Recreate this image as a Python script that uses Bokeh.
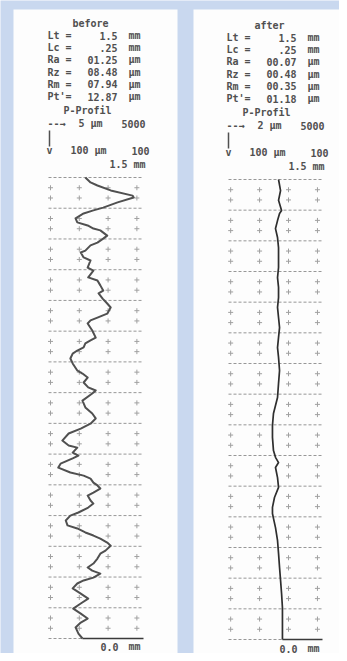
from bokeh.plotting import figure
from bokeh.models import Range1d
from bokeh.core.properties import value
from bokeh.embed import file_html
from bokeh.resources import INLINE

# ---------------- data ----------------
before_pos_mm = [0.000, 0.016, 0.026, 0.042, 0.059, 0.065, 0.081, 0.098, 0.107, 0.117,
                 0.133, 0.146, 0.156, 0.166, 0.172, 0.189, 0.199, 0.212, 0.221, 0.238,
                 0.244, 0.260, 0.270, 0.293, 0.303, 0.325, 0.335, 0.351, 0.368, 0.377,
                 0.394, 0.410, 0.423, 0.443, 0.456, 0.465, 0.475, 0.498, 0.521, 0.530,
                 0.540, 0.553, 0.563, 0.573, 0.589, 0.605, 0.628, 0.638, 0.651, 0.667,
                 0.683, 0.693, 0.703, 0.726, 0.748, 0.768, 0.784, 0.801, 0.817, 0.833,
                 0.856, 0.872, 0.879, 0.895, 0.905, 0.914, 0.931, 0.944, 0.960, 0.970,
                 0.980, 0.993, 1.002, 1.012, 1.025, 1.035, 1.051, 1.061, 1.074, 1.090,
                 1.100, 1.116, 1.132, 1.142, 1.155, 1.165, 1.175, 1.188, 1.198, 1.214,
                 1.224, 1.240, 1.256, 1.269, 1.279, 1.289, 1.302, 1.311, 1.321, 1.337,
                 1.354, 1.370, 1.386, 1.403, 1.419, 1.435, 1.448, 1.464, 1.484, 1.500]
before_height_um = [6.4, 7.3, 8.5, 10.8, 14.6, 14.8, 12.0, 9.5, 7.8, 6.1,
                    4.7, 5.0, 6.8, 7.8, 9.0, 10.2, 9.5, 8.5, 7.3, 6.4,
                    5.6, 6.1, 7.3, 6.8, 7.8, 6.9, 8.5, 9.0, 9.5, 8.7,
                    9.4, 10.2, 10.8, 10.2, 8.5, 7.3, 6.8, 7.6, 8.2, 7.3,
                    6.4, 6.1, 5.0, 4.2, 3.8, 4.2, 5.0, 5.9, 6.8, 6.1,
                    6.9, 8.2, 7.6, 5.9, 6.4, 7.6, 8.2, 7.3, 5.6, 3.5,
                    2.4, 3.5, 5.0, 4.2, 5.2, 4.2, 2.1, 1.7, 3.8, 6.1,
                    7.3, 7.8, 8.5, 9.0, 7.8, 6.8, 7.3, 7.8, 6.9, 5.2,
                    3.8, 3.0, 3.3, 5.0, 6.4, 7.8, 9.0, 10.2, 10.8, 9.9,
                    9.0, 8.5, 7.8, 6.8, 7.6, 9.0, 7.8, 6.1, 5.0, 4.2,
                    5.6, 6.9, 5.6, 4.3, 5.6, 6.8, 5.6, 4.7, 5.2, 5.9]

after_pos_mm = [0.000, 0.036, 0.068, 0.101, 0.111, 0.134, 0.160, 0.189, 0.222, 0.254,
                0.287, 0.320, 0.352, 0.385, 0.417, 0.450, 0.483, 0.515, 0.548, 0.580,
                0.623, 0.665, 0.711, 0.737, 0.763, 0.802, 0.841, 0.884, 0.906, 0.923,
                0.939, 0.972, 1.004, 1.037, 1.069, 1.089, 1.105, 1.135, 1.177, 1.219,
                1.265, 1.307, 1.350, 1.396, 1.438, 1.500]
after_height_um = [3.46, 3.60, 3.46, 3.67, 3.53, 3.39, 3.25, 3.39, 3.46, 3.46,
                   3.46, 3.39, 3.46, 3.46, 3.39, 3.46, 3.53, 3.46, 3.39, 3.46,
                   3.53, 3.46, 3.39, 3.25, 3.11, 3.04, 3.04, 3.11, 3.25, 3.46,
                   3.25, 3.39, 3.46, 3.18, 3.04, 3.04, 3.11, 3.25, 3.39, 3.46,
                   3.53, 3.60, 3.67, 3.73, 3.73, 3.73]

before_title = "before"
after_title = "after"
stat_labels = ["Lt =", "Lc =", "Ra =", "Rz =", "Rm =", "Pt'="]
stat_units = ["mm", "mm", "µm", "µm", "µm", "µm"]
before_values = ["1.5", ".25", "01.25", "08.48", "07.94", "12.87"]
after_values = ["1.5", ".25", "00.07", "00.48", "00.35", "01.18"]
profile_name = "P-Profil"
before_vscale = "5 µm"
after_vscale = "2 µm"
vmag = "5000"
hscale = "100 µm"
hmag = "100"
length_label = "1.5 mm"
zero_label = "0.0"
zero_unit = "mm"
length_mm = 1.5
length_step_mm = 0.1

# ---------------- page geometry (pixels of the picture) ----------------
W, H = 339, 653
PX0, PX1 = 0, W
PY0, PY1 = 0, H
BLUE = "#c9d8ef"
PANEL = "#fdfdfd"
INK = "#505050"
GRIDC = "#8c8c8c"
FONT = value("DejaVu Sans Mono")

p = figure(width=W, height=H, x_range=Range1d(PX0, PX1), y_range=Range1d(PY1, PY0),
           x_axis_type=None, y_axis_type=None, output_backend="svg",
           toolbar_location=None, min_border=0)
p.grid.visible = False
p.outline_line_color = None
p.background_fill_color = BLUE
p.border_fill_color = BLUE

# white paper panels
p.quad(left=[13, 193], right=[177, 341], top=[9, 9], bottom=[665, 665],
       fill_color=PANEL, line_color=None)

panels = [
    dict(name="b", box=(48, 143, 177, 638), hext=(0.0, 16.5), cols0=0.35, colstep=5.0,
         x0=47, dy=0, title=before_title, values=before_values, vscale=before_vscale,
         pos=before_pos_mm, h=before_height_um, lw=2.0, lc="#505050"),
    dict(name="a", box=(228, 322, 179, 639), hext=(0.0, 6.5), cols0=0.15, colstep=2.0,
         x0=226, dy=2, title=after_title, values=after_values, vscale=after_vscale,
         pos=after_pos_mm, h=after_height_um, lw=1.7, lc="#2e2e2e"),
]

for pn in panels:
    x0b, x1b, y0b, y1b = pn["box"]
    h0, h1 = pn["hext"]
    sx = (h1 - h0) / (x1b - x0b)
    sy = length_mm / (y1b - y0b)
    xr, yr = "x" + pn["name"], "y" + pn["name"]
    p.extra_x_ranges[xr] = Range1d(h0 + (PX0 - x0b) * sx, h0 + (PX1 - x0b) * sx)
    p.extra_y_ranges[yr] = Range1d((PY1 - y0b) * sy, (PY0 - y0b) * sy)
    kw = dict(x_range_name=xr, y_range_name=yr)

    n = int(round(length_mm / length_step_mm))
    ys = [k * length_step_mm for k in range(n + 1)]
    p.segment(x0=[h0] * len(ys), x1=[h1] * len(ys), y0=ys, y1=ys,
              line_color=GRIDC, line_width=1, line_dash="3 2", line_alpha=0.9, **kw)
    cols = [pn["cols0"] + i * pn["colstep"] for i in range(4)]
    mx, my = [], []
    for k in range(n):
        for f in (1 / 3, 2 / 3):
            for c in cols:
                mx.append(c)
                my.append((k + f) * length_step_mm)
    p.scatter(x=mx, y=my, marker="cross", size=5, line_color="#a0a0a0", line_width=1, **kw)

    # profile trace
    p.line(x=pn["h"], y=pn["pos"], line_color=pn["lc"], line_width=pn["lw"],
           line_join="round", **kw)
    # base line at the end of the trace
    p.segment(x0=[pn["h"][-1]], x1=[h1], y0=[pn["pos"][-1]], y1=[pn["pos"][-1]],
              line_color="#3a3a3a", line_width=1.6, **kw)

    # ---- header texts ----
    x0 = pn["x0"]
    dy = pn["dy"]
    common = dict(text_font=FONT, text_font_size="10px", text_font_style="bold",
                  text_color=INK, text_baseline="middle")
    rows = [35 + dy + 12.2 * i for i in range(6)]
    p.text(x=[x0 + 43], y=[23 + dy], text=[pn["title"]], text_align="center", **common)
    p.text(x=[x0] * 6, y=rows, text=stat_labels, text_align="left", **common)
    p.text(x=[x0 + 70] * 6, y=rows, text=pn["values"], text_align="right", **common)
    p.text(x=[x0 + 81] * 6, y=rows, text=stat_units, text_align="left", **common)
    p.text(x=[x0 + 40], y=[110 + dy], text=[profile_name], text_align="center", **common)
    p.text(x=[x0], y=[123 + dy], text=["--→"], text_align="left", **common)
    p.text(x=[x0 + 43], y=[123 + dy], text=[pn["vscale"]], text_align="center", **common)
    p.text(x=[x0 + 98], y=[123 + dy], text=[vmag], text_align="right", **common)
    p.segment(x0=[x0 + 2], x1=[x0 + 2], y0=[130 + dy], y1=[146 + dy],
              line_color=INK, line_width=1.5)
    p.text(x=[x0 + 2], y=[150 + dy], text=["v"], text_align="center", **common)
    p.text(x=[x0 + 41], y=[150 + dy], text=[hscale], text_align="center", **common)
    p.text(x=[x0 + 102], y=[150 + dy], text=[hmag], text_align="right", **common)
    p.text(x=[x0 + 98], y=[164 + dy], text=[length_label], text_align="right", **common)
    p.text(x=[x0 + 71], y=[646 + dy], text=[zero_label], text_align="right", **common)
    p.text(x=[x0 + 81], y=[646 + dy], text=[zero_unit], text_align="left", **common)

open("out.html", "w").write(file_html(p, INLINE))
